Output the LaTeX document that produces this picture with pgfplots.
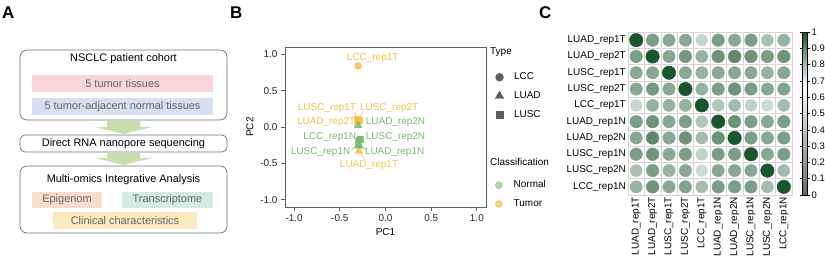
\documentclass[border=0pt]{standalone}
\usepackage{pgfplots}
\pgfplotsset{compat=1.18}
\usepackage{pgfplotstable}
\usepackage{fontspec}
\setmainfont{Liberation Sans}
\definecolor{tumorc}{HTML}{F4C04A}
\definecolor{normalc}{HTML}{78B96B}
\definecolor{axgray}{HTML}{5F5F5F}
\definecolor{legray}{HTML}{5E5E5E}
\definecolor{boxgray}{HTML}{707070}
\definecolor{pinkb}{HTML}{F7D6D9}
\definecolor{blueb}{HTML}{D7DFF3}
\definecolor{peachb}{HTML}{F9DDCC}
\definecolor{tealb}{HTML}{D4EAE5}
\definecolor{yellb}{HTML}{FCEBC1}
\definecolor{arrowg}{HTML}{C8DEAF}
\definecolor{gridc}{HTML}{DCD2DC}
\definecolor{innertxt}{HTML}{666666}

\pgfplotstableread{
x y v
1 1 1
2 1 0.86
3 1 0.84
4 1 0.84
5 1 0.75
6 1 0.86
7 1 0.84
8 1 0.86
9 1 0.79
10 1 0.82
1 2 0.86
2 2 1
3 2 0.84
4 2 0.87
5 2 0.82
6 2 0.88
7 2 0.90
8 2 0.88
9 2 0.86
10 2 0.88
1 3 0.84
2 3 0.84
3 3 1
4 3 0.84
5 3 0.82
6 3 0.84
7 3 0.84
8 3 0.84
9 3 0.82
10 3 0.84
1 4 0.84
2 4 0.87
3 4 0.84
4 4 1
5 4 0.82
6 4 0.86
7 4 0.88
8 4 0.86
9 4 0.84
10 4 0.85
1 5 0.75
2 5 0.82
3 5 0.82
4 5 0.82
5 5 1
6 5 0.78
7 5 0.80
8 5 0.76
9 5 0.74
10 5 0.80
1 6 0.86
2 6 0.88
3 6 0.84
4 6 0.86
5 6 0.78
6 6 1
7 6 0.88
8 6 0.86
9 6 0.84
10 6 0.86
1 7 0.84
2 7 0.90
3 7 0.84
4 7 0.88
5 7 0.80
6 7 0.88
7 7 1
8 7 0.86
9 7 0.84
10 7 0.86
1 8 0.86
2 8 0.88
3 8 0.84
4 8 0.86
5 8 0.76
6 8 0.86
7 8 0.86
8 8 1
9 8 0.84
10 8 0.86
1 9 0.79
2 9 0.86
3 9 0.82
4 9 0.84
5 9 0.74
6 9 0.84
7 9 0.84
8 9 0.84
9 9 1
10 9 0.80
1 10 0.82
2 10 0.88
3 10 0.84
4 10 0.85
5 10 0.80
6 10 0.86
7 10 0.86
8 10 0.86
9 10 0.80
10 10 1
}\corrtable

\begin{document}
\begin{tikzpicture}
\path[use as bounding box] (0,0) rectangle (825bp,263bp);
% panel letters
\node[anchor=base west, inner sep=0pt, font=\fontsize{17}{17}\selectfont\bfseries] at (2bp,244bp) {A};
\node[anchor=base west, inner sep=0pt, font=\fontsize{17}{17}\selectfont\bfseries] at (230bp,244bp) {B};
\node[anchor=base west, inner sep=0pt, font=\fontsize{17}{17}\selectfont\bfseries] at (539bp,244bp) {C};

% ---------------- Panel A (diagram) ----------------
\begin{scope}[x=1bp,y=-1bp,shift={(0bp,263bp)}]
\tikzset{lab/.style={font=\fontsize{11}{13}\selectfont, inner sep=0pt}}
\draw[boxgray, line width=0.7pt, rounded corners=7bp] (20,50) rectangle (227,120);
\node[lab] at (123.5,59) {NSCLC patient cohort};
\fill[pinkb] (32,75) rectangle (213,92);
\node[lab, text=innertxt] at (122.5,83.5) {5 tumor tissues};
\fill[blueb] (32,98) rectangle (213,115);
\node[lab, text=innertxt] at (122.5,106.5) {5 tumor-adjacent normal tissues};
\fill[arrowg] (107,121) -- (140,121) -- (140,127) -- (152,127) -- (123.5,134) -- (95,127) -- (107,127) -- cycle;
\draw[boxgray, line width=0.7pt, rounded corners=5bp] (20,135) rectangle (227,152);
\node[lab] at (123.5,143.5) {Direct RNA nanopore sequencing};
\fill[arrowg] (107,153) -- (140,153) -- (140,158) -- (152,158) -- (123.5,165) -- (95,158) -- (107,158) -- cycle;
\draw[boxgray, line width=0.7pt, rounded corners=7bp] (20,166) rectangle (227,233);
\node[lab] at (123.5,180) {Multi-omics Integrative Analysis};
\fill[peachb] (32,192) rectangle (102,208);
\node[lab, text=innertxt] at (67,200) {Epigenom};
\fill[tealb] (122,192) rectangle (213,208);
\node[lab, text=innertxt] at (167.5,200) {Transcriptome};
\fill[yellb] (53,212) rectangle (197,229);
\node[lab, text=innertxt] at (125,220.5) {Clinical characteristics};
\end{scope}

% ---------------- Panel B (PCA) ----------------
\begin{axis}[
  at={(285bp,56bp)}, anchor=south west,
  width=201bp, height=160bp, scale only axis,
  xmin=-1.1, xmax=1.1, ymin=-1.1, ymax=1.1,
  xtick={-1,-0.5,0,0.5,1}, ytick={-1,-0.5,0,0.5,1},
  xtick pos=bottom, ytick pos=left, tick align=outside,
  major tick length=4bp,
  axis line style={axgray, line width=0.8pt},
  every tick/.style={axgray, line width=0.8pt},
  ticklabel style={font=\fontsize{10}{12}\selectfont, text=black!85},
  /pgf/number format/fixed, /pgf/number format/fixed zerofill,
  /pgf/number format/precision=1, /pgf/number format/assume math mode=true,
  xlabel={PC1}, ylabel={PC2},
  label style={font=\fontsize{10}{12}\selectfont},
  unbounded coords=jump,
  legend style={at={(axis description cs:1.045,0.85)}, anchor=north west,
    draw=none, fill=none, font=\fontsize{10}{12}\selectfont,
    inner sep=0pt, row sep=6.5bp,
    nodes={inner sep=1.5bp, text height=7.2bp, text depth=2bp}},
  legend cell align=left,
  legend image code/.code={\draw[#1] plot coordinates {(0bp,0bp)}; \path[draw=none, fill=none] (0bp,0bp) -- (13bp,0bp);},
]
\addlegendimage{only marks, mark=*, legray, mark size=4}
\addlegendentry{LCC}
\addlegendimage{only marks, mark=triangle*, legray, mark size=5}
\addlegendentry{LUAD}
\addlegendimage{only marks, mark=square*, legray, mark size=3.6}
\addlegendentry{LUSC}
% repel segments
\addplot[tumorc, line width=0.6pt] coordinates {(-0.34,0.21) (-0.31,0.12) (nan,nan) (-0.25,0.21) (-0.29,0.11) (nan,nan) (-0.22,-0.46) (-0.28,-0.35)};
\addplot[normalc, line width=0.6pt] coordinates {(-0.34,-0.16) (-0.30,-0.18) (nan,nan) (-0.37,-0.31) (-0.31,-0.25) (nan,nan) (-0.21,-0.31) (-0.28,-0.27)};
% tumor points
\addplot[only marks, mark=*, mark size=3.5, tumorc, opacity=0.85] coordinates {(-0.30,0.84)};
\addplot[only marks, mark=square*, mark size=3.2, tumorc, opacity=0.85] coordinates {(-0.31,0.10) (-0.29,0.09)};
\addplot[only marks, mark=triangle*, mark size=4.5, tumorc, opacity=0.85] coordinates {(-0.30,0.07) (-0.29,-0.33)};
% normal points
\addplot[only marks, mark=*, mark size=3.5, normalc, opacity=0.85] coordinates {(-0.29,-0.18)};
\addplot[only marks, mark=square*, mark size=3.2, normalc, opacity=0.85] coordinates {(-0.28,-0.17) (-0.30,-0.24)};
\addplot[only marks, mark=triangle*, mark size=4.5, normalc, opacity=0.85] coordinates {(-0.30,0.02) (-0.29,-0.26)};
% labels
\addplot[only marks, mark=none, point meta=explicit symbolic, nodes near coords,
  nodes near coords style={anchor=center, text=tumorc, font=\fontsize{10}{12}\selectfont, inner sep=0pt}]
  coordinates {(-0.14,0.95) [LCC\_rep1T] (-0.64,0.26) [LUSC\_rep1T] (0.04,0.26) [LUSC\_rep2T] (-0.65,0.07) [LUAD\_rep2T] (-0.18,-0.52) [LUAD\_rep1T]};
\addplot[only marks, mark=none, point meta=explicit symbolic, nodes near coords,
  nodes near coords style={anchor=center, text=normalc, font=\fontsize{10}{12}\selectfont, inner sep=0pt}]
  coordinates {(0.11,0.07) [LUAD\_rep2N] (-0.61,-0.14) [LCC\_rep1N] (0.11,-0.14) [LUSC\_rep2N] (-0.71,-0.34) [LUSC\_rep1N] (0.10,-0.34) [LUAD\_rep1N]};
\end{axis}
% classification legend (helper axis)
\begin{axis}[
  at={(285bp,56bp)}, anchor=south west,
  width=201bp, height=160bp, scale only axis, hide axis,
  xmin=0, xmax=1, ymin=0, ymax=1,
  legend style={at={(axis description cs:1.045,0.175)}, anchor=north west,
    draw=none, fill=none, font=\fontsize{10}{12}\selectfont,
    inner sep=0pt, row sep=6.5bp,
    nodes={inner sep=1.5bp, text height=7.2bp, text depth=2bp}},
  legend cell align=left,
  legend image code/.code={\draw[#1] plot coordinates {(0bp,0bp)}; \path[draw=none, fill=none] (0bp,0bp) -- (13.4bp,0bp);},
]
\addlegendimage{only marks, mark=*, normalc, opacity=0.6, mark size=3.6}
\addlegendentry{Normal}
\addlegendimage{only marks, mark=*, tumorc, opacity=0.75, mark size=3.6}
\addlegendentry{Tumor}
\end{axis}
\node[anchor=west, inner sep=0pt, font=\fontsize{10}{12}\selectfont] at (490bp,211bp) {Type};
\node[anchor=west, inner sep=0pt, font=\fontsize{10}{12}\selectfont] at (490bp,101bp) {Classification};

% ---------------- Panel C (correlation) ----------------
\begin{axis}[
  at={(628bp,68bp)}, anchor=south west,
  width=164bp, height=163bp, scale only axis,
  xmin=0.5, xmax=10.5, ymin=0.5, ymax=10.5, y dir=reverse,
  xtick={1,...,10}, ytick={1,...,10},
  xticklabels={LUAD\_rep1T,LUAD\_rep2T,LUSC\_rep1T,LUSC\_rep2T,LCC\_rep1T,LUAD\_rep1N,LUAD\_rep2N,LUSC\_rep1N,LUSC\_rep2N,LCC\_rep1N},
  yticklabels={LUAD\_rep1T,LUAD\_rep2T,LUSC\_rep1T,LUSC\_rep2T,LCC\_rep1T,LUAD\_rep1N,LUAD\_rep2N,LUSC\_rep1N,LUSC\_rep2N,LCC\_rep1N},
  major tick length=0pt, minor tick length=0pt,
  minor xtick={0.5,1.5,...,10.5}, minor ytick={0.5,1.5,...,10.5},
  grid=minor, minor grid style={gridc, line width=0.5pt},
  axis line style={gridc, line width=0.5pt},
  xticklabel style={rotate=90, anchor=east, font=\fontsize{10}{12}\selectfont, inner sep=2bp},
  yticklabel style={font=\fontsize{10}{12}\selectfont, inner sep=2bp},
  colormap={corrmap}{rgb255(0cm)=(105,105,105) rgb255(6.7cm)=(255,255,255) rgb255(10cm)=(25,86,45)},
  point meta min=0, point meta max=1,
  colorbar,
  colorbar style={
    at={(parent axis.north east)}, anchor=north west, xshift=1.5bp,
    width=5.5bp, scale only axis,
    ytick={0,0.1,0.2,0.3,0.4,0.5,0.6,0.7,0.8,0.9,1},
    yticklabel pos=right, tick align=outside, major tick length=2.5bp,
    grid=none,
    axis line style={black, line width=0.5pt},
    every tick/.style={black, line width=0.5pt},
    yticklabel style={font=\fontsize{9.5}{11}\selectfont, /pgf/number format/assume math mode=true, inner sep=1.5bp},
  },
]
\addplot[scatter, only marks, mark=*, point meta=\thisrow{v},
  scatter/use mapped color={draw=mapped color, fill=mapped color},
  visualization depends on={6.8*sqrt(\thisrow{v}) \as \msize},
  scatter/@pre marker code/.append style={/tikz/mark size=\msize, /tikz/line width=0pt}]
  table[x=x, y=y] {\corrtable};
\end{axis}
\end{tikzpicture}
\end{document}
